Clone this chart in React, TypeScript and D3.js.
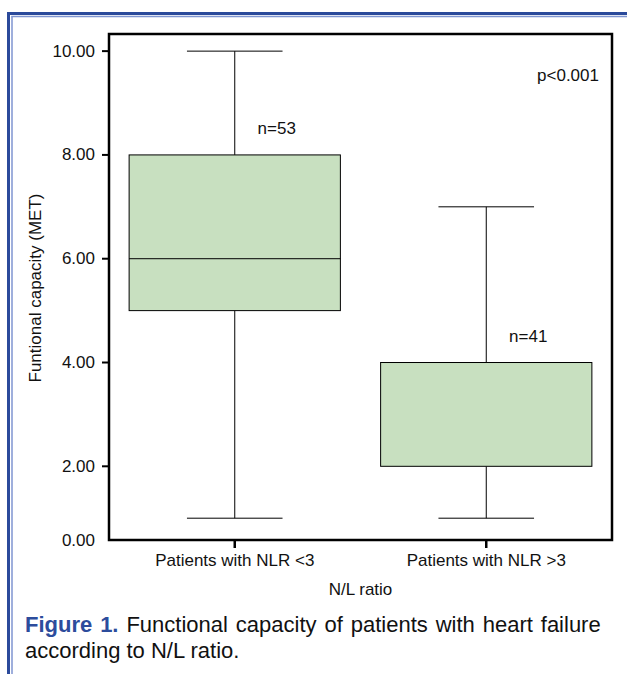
import React from "react";
import * as d3 from "d3";

// ---- Data ----
const categories = ["Patients with NLR <3", "Patients with NLR >3"];
const whiskerLow = [1, 1];
const q1Values = [5, 2];
const medianValues = [6, 4];
const q3Values = [8, 4];
const whiskerHigh = [10, 7];
const countLabels = ["n=53", "n=41"];
const yTickValues = [0, 2, 4, 6, 8, 10];
const yTitle = "Funtional capacity (MET)";
const xTitle = "N/L ratio";
const pLabel = "p<0.001";
const captionBold = "Figure 1.";
const captionLine1 = "Functional capacity of patients with heart failure";
const captionLine2 = "according to N/L ratio.";

const W = 627;
const H = 674;
const FONT = "'Liberation Sans', Arial, Helvetica, sans-serif";

export default function App() {
  const left = 109, right = 612, top = 34, bottom = 540;
  const y = d3.scaleLinear().domain([0.58, 10.33]).range([bottom, top]);
  const x = d3.scalePoint<string>().domain(categories).range([left, right]).padding(0.5);
  const step = x.step();
  const boxW = step * 0.84;
  const capW = step * 0.38;
  const fs = 17;
  const blueDark = "#2b4a9b";
  const blueLight = "#7f95d0";

  return (
    <svg
      width={W}
      height={H}
      style={{ position: "absolute", left: 0, top: 0, background: "#fff" }}
      fontFamily={FONT}
    >
      <rect x={0} y={0} width={W} height={H} fill="#fff" />
      {/* frame */}
      <line x1={8.5} y1={12} x2={8.5} y2={H} stroke={blueDark} strokeWidth={3} />
      <line x1={7} y1={13.5} x2={W} y2={13.5} stroke={blueDark} strokeWidth={3} />
      <line x1={12} y1={16.5} x2={12} y2={H} stroke={blueLight} strokeWidth={1.5} />
      <line x1={11.25} y1={16.5} x2={W} y2={16.5} stroke={blueLight} strokeWidth={1.5} />

      {/* boxes */}
      {categories.map((c, i) => {
        const cx = x(c)!;
        return (
          <g key={c}>
            <line x1={cx} x2={cx} y1={y(whiskerHigh[i])} y2={y(q3Values[i])} stroke="#000" strokeWidth={1} />
            <line x1={cx} x2={cx} y1={y(q1Values[i])} y2={y(whiskerLow[i])} stroke="#000" strokeWidth={1} />
            <line x1={cx - capW / 2} x2={cx + capW / 2} y1={y(whiskerHigh[i])} y2={y(whiskerHigh[i])} stroke="#000" strokeWidth={1} />
            <line x1={cx - capW / 2} x2={cx + capW / 2} y1={y(whiskerLow[i])} y2={y(whiskerLow[i])} stroke="#000" strokeWidth={1} />
            <rect
              x={cx - boxW / 2}
              y={y(q3Values[i])}
              width={boxW}
              height={y(q1Values[i]) - y(q3Values[i])}
              fill="#c8e0c0"
              stroke="#000"
              strokeWidth={1}
            />
            <line x1={cx - boxW / 2} x2={cx + boxW / 2} y1={y(medianValues[i])} y2={y(medianValues[i])} stroke="#000" strokeWidth={1} />
            <text x={cx + 42} y={y(q3Values[i]) - 21} fontSize={fs} textAnchor="middle" fill="#111">
              {countLabels[i]}
            </text>
          </g>
        );
      })}

      {/* plot frame */}
      <rect x={left} y={top} width={right - left} height={bottom - top} fill="none" stroke="#000" strokeWidth={2.5} />

      {/* y ticks */}
      {yTickValues.map((v) => {
        const yy = y(Math.max(v, y.domain()[0]));
        return (
          <g key={v}>
            {v > y.domain()[0] && <line x1={102} x2={left} y1={yy} y2={yy} stroke="#000" strokeWidth={2} />}
            <text x={95} y={yy} fontSize={fs} textAnchor="end" dominantBaseline="central" fill="#111">
              {v.toFixed(2)}
            </text>
          </g>
        );
      })}

      {/* x ticks */}
      {categories.map((c) => (
        <g key={c}>
          <line x1={x(c)} x2={x(c)} y1={bottom} y2={bottom + 8} stroke="#000" strokeWidth={2.5} />
          <text x={x(c)} y={566} fontSize={fs} textAnchor="middle" fill="#111">
            {c}
          </text>
        </g>
      ))}

      <text x={(left + right) / 2} y={595} fontSize={fs} textAnchor="middle" fill="#111">
        {xTitle}
      </text>
      <text
        transform={`translate(41, ${(top + bottom) / 2 + 1}) rotate(-90)`}
        fontSize={fs}
        textAnchor="middle"
        fill="#111"
      >
        {yTitle}
      </text>
      <text x={599} y={81} fontSize={fs} textAnchor="end" fill="#111">
        {pLabel}
      </text>

      {/* caption */}
      <text x={25} y={632} fontSize={22} fill="#111" wordSpacing={1.8}>
        <tspan fontWeight="bold" fill="#2c4c9c">{captionBold}</tspan>
        <tspan>{" " + captionLine1}</tspan>
      </text>
      <text x={25} y={658} fontSize={22} fill="#111">
        {captionLine2}
      </text>
    </svg>
  );
}
